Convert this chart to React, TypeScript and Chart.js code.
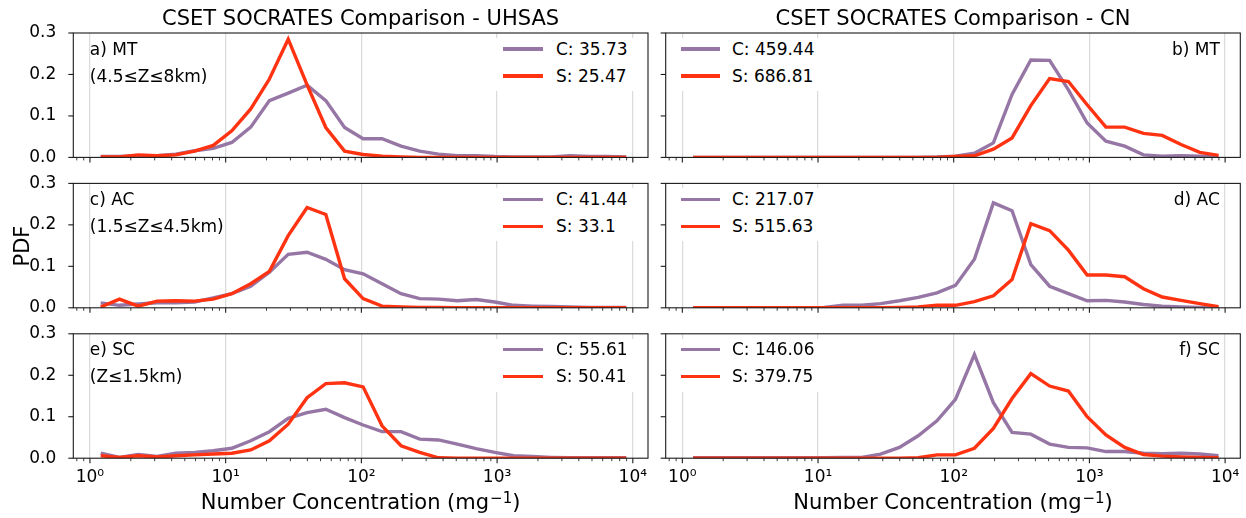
import React, { useEffect, useRef } from "react";
import { Chart, registerables } from "chart.js";
Chart.register(...registerables);

// ---------------- data ----------------
const binCenters = [1.2, 1.65, 2.27, 3.12, 4.29, 5.9, 8.1, 11.1, 15.3, 21.0, 28.9, 39.8, 54.7, 75.2, 103, 142, 196, 269, 370, 509, 700, 962, 1323, 1820, 2502, 3440, 4730, 6505, 8944];

const uhsasMT_C = [0.002, 0.002, 0.004, 0.004, 0.008, 0.016, 0.022, 0.036, 0.073, 0.137, 0.155, 0.174, 0.137, 0.072, 0.045, 0.045, 0.027, 0.015, 0.008, 0.004, 0.004, 0.002, 0.001, 0.001, 0.001, 0.004, 0.002, 0.002, 0.001];
const uhsasMT_S = [0.001, 0.001, 0.006, 0.004, 0.006, 0.015, 0.029, 0.064, 0.117, 0.189, 0.285, 0.175, 0.072, 0.015, 0.007, 0.003, 0.001, 0, 0, 0, 0, 0, 0, 0, 0, 0, 0, 0, 0];
const cnMT_C = [0, 0, 0, 0, 0, 0, 0, 0, 0, 0, 0, 0, 0, 0.001, 0.003, 0.01, 0.035, 0.152, 0.235, 0.234, 0.163, 0.083, 0.039, 0.027, 0.006, 0.003, 0.004, 0.003, 0.002];
const cnMT_S = [0, 0, 0, 0, 0, 0, 0, 0, 0, 0, 0, 0, 0, 0, 0.002, 0.004, 0.02, 0.047, 0.125, 0.19, 0.183, 0.127, 0.073, 0.073, 0.058, 0.053, 0.031, 0.012, 0.005];
const uhsasAC_C = [0.012, 0.006, 0.009, 0.012, 0.012, 0.014, 0.024, 0.034, 0.052, 0.086, 0.129, 0.134, 0.117, 0.092, 0.082, 0.058, 0.034, 0.022, 0.021, 0.017, 0.02, 0.014, 0.006, 0.004, 0.003, 0.002, 0.001, 0.001, 0.001];
const uhsasAC_S = [0.002, 0.021, 0.004, 0.016, 0.017, 0.016, 0.021, 0.034, 0.058, 0.088, 0.174, 0.242, 0.225, 0.07, 0.022, 0.004, 0.002, 0.001, 0.001, 0, 0, 0, 0, 0, 0, 0, 0, 0, 0];
const cnAC_C = [0, 0, 0, 0, 0, 0, 0, 0.001, 0.006, 0.006, 0.01, 0.017, 0.025, 0.036, 0.054, 0.117, 0.253, 0.234, 0.104, 0.052, 0.034, 0.017, 0.018, 0.014, 0.008, 0.004, 0.002, 0.001, 0.001];
const cnAC_S = [0, 0, 0, 0, 0, 0, 0, 0, 0, 0, 0, 0.001, 0.002, 0.006, 0.006, 0.015, 0.029, 0.068, 0.203, 0.186, 0.139, 0.079, 0.079, 0.075, 0.046, 0.026, 0.018, 0.01, 0.003];
const uhsasSC_C = [0.012, 0.002, 0.009, 0.004, 0.012, 0.014, 0.018, 0.024, 0.042, 0.064, 0.096, 0.11, 0.118, 0.098, 0.08, 0.064, 0.064, 0.046, 0.044, 0.034, 0.023, 0.014, 0.006, 0.004, 0.002, 0.001, 0.001, 0.001, 0.001];
const uhsasSC_S = [0.006, 0.002, 0.006, 0.003, 0.006, 0.008, 0.01, 0.012, 0.02, 0.042, 0.082, 0.146, 0.18, 0.182, 0.172, 0.078, 0.03, 0.014, 0.001, 0, 0, 0, 0, 0, 0, 0, 0, 0, 0];
const cnSC_C = [0.001, 0.001, 0.001, 0.001, 0.001, 0.001, 0.001, 0.001, 0.002, 0.002, 0.01, 0.026, 0.054, 0.09, 0.142, 0.25, 0.134, 0.062, 0.058, 0.034, 0.026, 0.025, 0.016, 0.016, 0.012, 0.011, 0.012, 0.01, 0.006];
const cnSC_S = [0, 0, 0, 0, 0, 0, 0, 0, 0, 0, 0, 0, 0.001, 0.008, 0.008, 0.024, 0.072, 0.144, 0.204, 0.174, 0.162, 0.1, 0.056, 0.026, 0.009, 0.005, 0.003, 0.002, 0.001];

const legendC = ["C: 35.73", "C: 459.44", "C: 41.44", "C: 217.07", "C: 55.61", "C: 146.06"];
const legendS = ["S: 25.47", "S: 686.81", "S: 33.1", "S: 515.63", "S: 50.41", "S: 379.75"];
const panelTags = [["a) MT", "(4.5≤Z≤8km)"], ["b) MT"], ["c) AC", "(1.5≤Z≤4.5km)"], ["d) AC"], ["e) SC", "(Z≤1.5km)"], ["f) SC"]];
const columnTitles = ["CSET SOCRATES Comparison - UHSAS", "CSET SOCRATES Comparison - CN"];
const xTickLabels: Record<string, string> = { "1": "10⁰", "10": "10¹", "100": "10²", "1000": "10³", "10000": "10⁴" };
const yTickValues = [0, 0.1, 0.2, 0.3];
const yLabel = "PDF";
const xLabel = "Number Concentration (mg";
const xLabelExp = "−1";

const seriesC = [uhsasMT_C, cnMT_C, uhsasAC_C, cnAC_C, uhsasSC_C, cnSC_C];
const seriesS = [uhsasMT_S, cnMT_S, uhsasAC_S, cnAC_S, uhsasSC_S, cnSC_S];

// ---------------- style / layout ----------------
const FONT = '"DejaVu Sans", sans-serif';
const COLOR_C = "#9676a5";
const COLOR_S = "#ff3311";
const X_MIN = 0.754;
const X_MAX = 12940;
const COL_L = [73.3, 665.7];
const COL_R = [648, 1240.3];
const ROW_T = [33, 183.4, 333.8];
const ROW_H = 124.4;
const CANVAS_LEFT = [0, 655];

const isMajor = (v: number) => {
  const l = Math.log10(v);
  return Math.abs(l - Math.round(l)) < 1e-6;
};
const xTickValues: number[] = [];
for (let e = -1; e <= 4; e++) {
  for (let m = 1; m <= 9; m++) {
    const v = Number((m * Math.pow(10, e)).toPrecision(6));
    if (v >= X_MIN && v <= X_MAX) xTickValues.push(v);
  }
}

const zeroPad = (s: any) => {
  s.paddingTop = 0;
  s.paddingBottom = 0;
  s.paddingLeft = 0;
  s.paddingRight = 0;
};

const framePlugin = {
  id: "frameTicks",
  afterDatasetsDraw(chart: any) {
    const { ctx, chartArea: a, scales } = chart;
    const x = scales.x;
    const y = scales.y;
    ctx.save();
    ctx.strokeStyle = "#1a1a1a";
    for (const t of x.ticks) {
      const px = x.getPixelForValue(t.value);
      if (px < a.left - 0.5 || px > a.right + 0.5) continue;
      const major = isMajor(t.value);
      ctx.lineWidth = major ? 1.1 : 0.85;
      ctx.beginPath();
      ctx.moveTo(px, a.bottom);
      ctx.lineTo(px, a.bottom + (major ? 5 : 3));
      ctx.stroke();
    }
    ctx.lineWidth = 1.1;
    for (const t of y.ticks) {
      const py = y.getPixelForValue(t.value);
      ctx.beginPath();
      ctx.moveTo(a.left, py);
      ctx.lineTo(a.left - 5, py);
      ctx.stroke();
    }
    ctx.lineWidth = 1.1;
    ctx.strokeRect(a.left, a.top, a.right - a.left, a.bottom - a.top);
    ctx.restore();
  },
};

function Panel({ idx }: { idx: number }) {
  const ref = useRef<HTMLCanvasElement | null>(null);
  const col = idx % 2;
  const row = Math.floor(idx / 2);
  const bottomRow = row === 2;
  const canvasLeft = CANVAS_LEFT[col];
  const canvasTop = Math.floor(ROW_T[row]) - 10;
  const canvasW = col === 0 ? 660 : 1246 - canvasLeft;
  const canvasH = bottomRow ? 192 : 150;
  const padTop = ROW_T[row] - canvasTop;
  const xAxisH = canvasH - padTop - ROW_H;
  const padRight = canvasLeft + canvasW - COL_R[col];
  const yAxisW = COL_L[col] - canvasLeft;

  useEffect(() => {
    if (!ref.current) return;
    const chart = new Chart(ref.current, {
      type: "line",
      data: {
        labels: binCenters,
        datasets: [
          {
            label: legendC[idx],
            data: binCenters.map((b, i) => ({ x: b, y: seriesC[idx][i] })),
            borderColor: COLOR_C,
            borderWidth: 3.4,
            pointRadius: 0,
            tension: 0,
            fill: false,
            order: 2,
          },
          {
            label: legendS[idx],
            data: binCenters.map((b, i) => ({ x: b, y: seriesS[idx][i] })),
            borderColor: COLOR_S,
            borderWidth: 3.4,
            pointRadius: 0,
            tension: 0,
            fill: false,
            order: 1,
          },
        ],
      },
      options: {
        animation: false,
        responsive: false,
        devicePixelRatio: 1,
        layout: { padding: { top: padTop, right: padRight, left: 0, bottom: 0 } },
        plugins: { legend: { display: false }, tooltip: { enabled: false }, title: { display: false } },
        events: [],
        scales: {
          x: {
            type: "logarithmic",
            min: X_MIN,
            max: X_MAX,
            afterBuildTicks: (s: any) => {
              s.ticks = xTickValues.map((v) => ({ value: v, major: false }));
            },
            afterFit: (s: any) => {
              s.height = xAxisH;
              zeroPad(s);
            },
            grid: {
              display: true,
              drawTicks: false,
              lineWidth: 1.3,
              color: (c: any) => (c.tick && isMajor(c.tick.value) ? "#dcdcdc" : "rgba(0,0,0,0)"),
            },
            border: { display: false },
            ticks: {
              display: bottomRow,
              autoSkip: false,
              maxRotation: 0,
              minRotation: 0,
              padding: 9,
              color: "#000",
              font: { family: FONT, size: 17 },
              callback: (v: any) => {
                const n = Number(v);
                return isMajor(n) ? xTickLabels[String(Math.round(n))] || "" : "";
              },
            },
          },
          y: {
            type: "linear",
            min: 0,
            max: 0.3,
            afterBuildTicks: (s: any) => {
              s.ticks = yTickValues.map((v) => ({ value: v }));
            },
            afterFit: (s: any) => {
              s.width = yAxisW;
              zeroPad(s);
            },
            grid: { display: false },
            border: { display: false },
            ticks: {
              display: col === 0,
              padding: 9,
              color: "#000",
              font: { family: FONT, size: 17 },
              callback: (v: any) => Number(v).toFixed(1),
            },
          },
        },
      },
      plugins: [framePlugin],
    } as any);
    return () => chart.destroy();
  }, [idx]);

  return (
    <canvas
      ref={ref}
      width={canvasW}
      height={canvasH}
      style={{ position: "absolute", left: canvasLeft, top: canvasTop, width: canvasW, height: canvasH }}
    />
  );
}

function Txt({ x, baseline, size, align = "left", children }: any) {
  const style: any = {
    position: "absolute",
    top: baseline - 0.846 * size,
    fontSize: size,
    lineHeight: size + "px",
    whiteSpace: "nowrap",
    fontFamily: FONT,
    color: "#000",
  };
  if (align === "left") style.left = x;
  else if (align === "right") style.right = 1246 - x;
  else {
    style.left = x;
    style.transform = "translateX(-50%)";
  }
  return <div style={style}>{children}</div>;
}

function Overlay({ idx }: { idx: number }) {
  const col = idx % 2;
  const row = Math.floor(idx / 2);
  const T = ROW_T[row];
  const L = COL_L[col];
  const R = COL_R[col];
  const boxLeft = col === 0 ? L + 421 : L + 4;
  const boxRight = col === 0 ? R - 4 : L + 162;
  const swL = col === 0 ? L + 429.7 : L + 15.3;
  const swW = col === 0 ? 40 : 39;
  const txL = col === 0 ? 556 : 732;
  const tags = panelTags[idx];
  return (
    <>
      <div
        style={{
          position: "absolute",
          left: boxLeft,
          top: T + 5,
          width: boxRight - boxLeft,
          height: 53,
          background: "#fff",
          borderRadius: 3,
        }}
      />
      <div style={{ position: "absolute", left: swL, top: T + 16 - 1.7, width: swW, height: 3.4, background: COLOR_C }} />
      <div style={{ position: "absolute", left: swL, top: T + 43 - 1.7, width: swW, height: 3.4, background: COLOR_S }} />
      <Txt x={txL} baseline={T + 22} size={17}>{legendC[idx]}</Txt>
      <Txt x={txL} baseline={T + 49} size={17}>{legendS[idx]}</Txt>
      {col === 0 ? (
        <>
          <Txt x={L + 16.5} baseline={T + 22} size={17}>{tags[0]}</Txt>
          <Txt x={L + 16.5} baseline={T + 49} size={17}>{tags[1]}</Txt>
        </>
      ) : (
        <Txt x={R - 20.5} baseline={T + 22} size={17} align="right">{tags[0]}</Txt>
      )}
    </>
  );
}

export default function App() {
  const idxs = [0, 1, 2, 3, 4, 5];
  return (
    <div
      style={{
        position: "absolute",
        left: 0,
        top: 0,
        width: 1246,
        height: 518,
        background: "#fff",
        overflow: "hidden",
        fontFamily: FONT,
      }}
    >
      {idxs.map((i) => (
        <Panel key={"p" + i} idx={i} />
      ))}
      {idxs.map((i) => (
        <Overlay key={"o" + i} idx={i} />
      ))}
      {[0, 1].map((c) => (
        <Txt key={"t" + c} x={(COL_L[c] + COL_R[c]) / 2} baseline={26} size={21} align="center">
          {columnTitles[c]}
        </Txt>
      ))}
      {[0, 1].map((c) => (
        <Txt key={"x" + c} x={(COL_L[c] + COL_R[c]) / 2} baseline={510} size={21} align="center">
          {xLabel}
          <span style={{ fontSize: 15, position: "relative", top: -6, marginLeft: 1 }}>{xLabelExp}</span>)
        </Txt>
      ))}
      <div
        style={{
          position: "absolute",
          left: 22,
          top: (ROW_T[0] + ROW_T[2] + ROW_H) / 2,
          transform: "translate(-50%, -50%) rotate(-90deg)",
          fontSize: 21,
          lineHeight: "21px",
          fontFamily: FONT,
          whiteSpace: "nowrap",
        }}
      >
        {yLabel}
      </div>
    </div>
  );
}
